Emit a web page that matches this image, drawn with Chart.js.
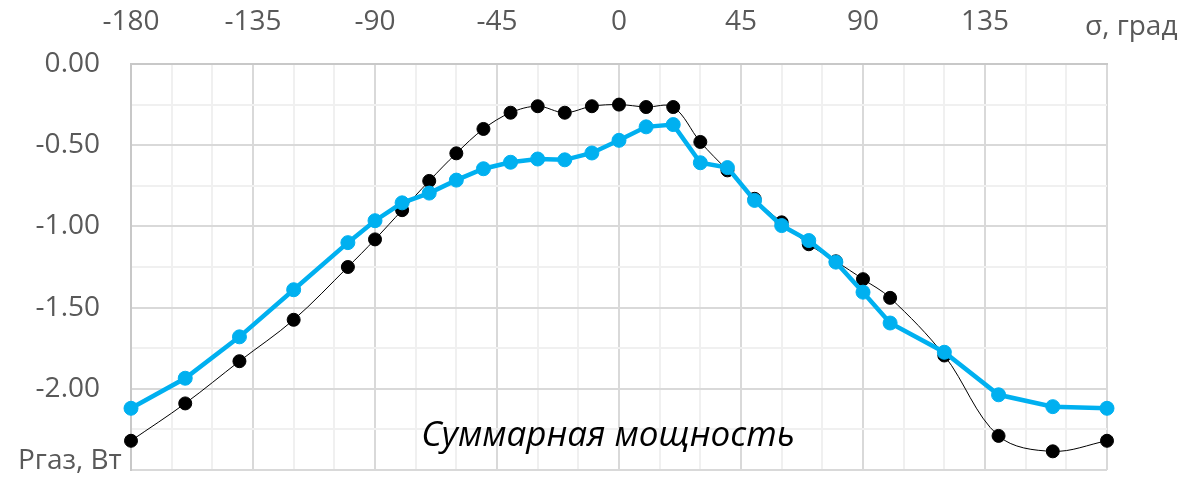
<!DOCTYPE html>
<html>
<head>
<meta charset="utf-8">
<title>Суммарная мощность</title>
<script src="https://cdn.jsdelivr.net/npm/chart.js@4.4.1/dist/chart.umd.min.js"></script>
<style>
  body { margin: 0; background: #fff; }
  #chart { display: block; }
</style>
</head>
<body>
<canvas id="chart" width="1184" height="478"></canvas>
<script>
// Angles σ, degrees
const angles = [-180, -160, -140, -120, -100, -90, -80, -70, -60, -50, -40, -30, -20, -10, 0,
  10, 20, 30, 40, 50, 60, 70, 80, 90, 100, 120, 140, 160, 180];

// Black series (thin smooth line)
const powerBlack = [-2.32, -2.09, -1.83, -1.575, -1.25, -1.08, -0.90, -0.72, -0.55, -0.40, -0.30, -0.26, -0.30, -0.26, -0.25,
  -0.265, -0.265, -0.48, -0.655, -0.83, -0.975, -1.11, -1.215, -1.325, -1.44, -1.795, -2.29, -2.385, -2.32];

// Blue series (thick straight line)
const powerBlue = [-2.12, -1.935, -1.68, -1.39, -1.10, -0.965, -0.855, -0.795, -0.715, -0.645, -0.605, -0.585, -0.59, -0.548, -0.47,
  -0.387, -0.373, -0.608, -0.638, -0.84, -0.995, -1.087, -1.22, -1.405, -1.595, -1.775, -2.037, -2.11, -2.12];

// Axis labels
const xLabels = [-180, -135, -90, -45, 0, 45, 90, 135];
const yLabels = [0, -0.5, -1, -1.5, -2];

const xTitle = 'σ, град';
const yTitle = 'Pгаз, Вт';
const chartTitle = 'Суммарная мощность';

const fontFamily = '"Open Sans", "DejaVu Sans", sans-serif';
const labelGrey = '#595959';

function toPoints(values) {
  return angles.map(function (a, i) { return { x: a, y: values[i] }; });
}

// Extra texts drawn on the canvas
const textPlugin = {
  id: 'texts',
  afterDraw: function (chart) {
    const c = chart.ctx;
    c.save();
    c.fillStyle = labelGrey;
    c.font = '28px ' + fontFamily;
    c.textBaseline = 'alphabetic';
    c.textAlign = 'left';
    c.fillText(yTitle, 18, 469);
    c.fillText(xTitle, 1085, 35);

    c.fillStyle = '#000';
    c.font = 'italic 35px ' + fontFamily;
    c.textAlign = 'center';
    c.fillText(chartTitle, 608, 446);
    c.restore();
  }
};

const ctx = document.getElementById('chart');

let powerChart = new Chart(ctx, {
  type: 'line',
  data: {
    datasets: [
      {
        data: toPoints(powerBlue),
        borderColor: '#00b0f0',
        backgroundColor: '#00b0f0',
        borderWidth: 4.5,
        pointRadius: 7,
        pointBorderWidth: 1,
        tension: 0,
        clip: false
      },
      {
        data: toPoints(powerBlack),
        borderColor: '#000',
        backgroundColor: '#000',
        borderWidth: 1,
        pointRadius: 6.5,
        pointBorderWidth: 1,
        tension: 0.35,
        clip: false
      }
    ]
  },
  options: {
    responsive: false,
    animation: false,
    devicePixelRatio: 1,
    layout: { padding: { left: 0, right: 77, top: 0, bottom: 8 } },
    plugins: {
      legend: { display: false },
      tooltip: { enabled: false }
    },
    scales: {
      x: {
        type: 'linear',
        position: 'top',
        min: -180,
        max: 180,
        afterFit: function (scale) { scale.height = 64; },
        border: { color: '#c8c8c8', width: 2 },
        grid: {
          drawTicks: false,
          color: function (c) { return c.tick.value % 45 === 0 ? '#d9d9d9' : '#f0f0f0'; },
          lineWidth: 2
        },
        ticks: {
          stepSize: 15,
          autoSkip: false,
          maxRotation: 0,
          padding: 25,
          color: labelGrey,
          font: { family: fontFamily, size: 28 },
          callback: function (v) { return xLabels.includes(v) ? String(v) : ''; }
        }
      },
      y: {
        type: 'linear',
        min: -2.5,
        max: 0,
        // fixed width, and no extra room above/below for the labels
        afterFit: function (scale) {
          scale.width = 131;
          scale.paddingTop = 0;
          scale.paddingBottom = 0;
        },
        border: { color: '#c8c8c8', width: 2 },
        grid: {
          drawTicks: false,
          color: function (c) { return Math.abs(c.tick.value * 2 % 1) < 1e-6 ? '#d9d9d9' : '#f0f0f0'; },
          lineWidth: 2
        },
        ticks: {
          stepSize: 0.25,
          autoSkip: false,
          padding: 31,
          color: labelGrey,
          font: { family: fontFamily, size: 28 },
          callback: function (v) {
            return yLabels.some(function (l) { return Math.abs(l - v) < 1e-6; }) ? v.toFixed(2) : '';
          }
        }
      }
    }
  },
  plugins: [textPlugin]
});
</script>
</body>
</html>
